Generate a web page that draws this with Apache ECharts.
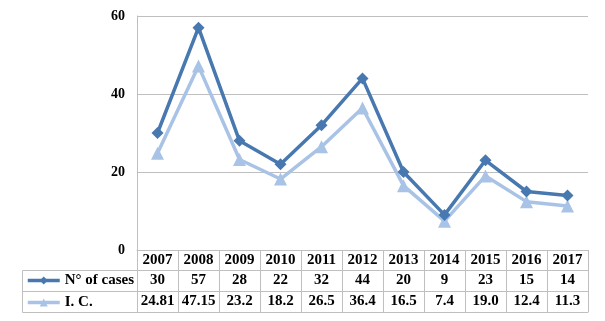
<!DOCTYPE html>
<html>
<head>
<meta charset="utf-8">
<script src="https://cdn.jsdelivr.net/npm/echarts@6/dist/echarts.min.js"></script>
<style>
  html, body { margin: 0; padding: 0; background: #fff; }
  #chart { width: 605px; height: 321px; }
</style>
</head>
<body>
<div id="chart"></div>
<script>
// Chart data
const years = ['2007', '2008', '2009', '2010', '2011', '2012', '2013', '2014', '2015', '2016', '2017'];
const cases = [30, 57, 28, 22, 32, 44, 20, 9, 23, 15, 14];
const incidence = [24.81, 47.15, 23.2, 18.2, 26.5, 36.4, 16.5, 7.4, 19.0, 12.4, 11.3];
const casesLabels = ['30', '57', '28', '22', '32', '44', '20', '9', '23', '15', '14'];
const incidenceLabels = ['24.81', '47.15', '23.2', '18.2', '26.5', '36.4', '16.5', '7.4', '19.0', '12.4', '11.3'];

const FONT = '"Liberation Serif", "Times New Roman", serif';
const BORDER = '#bfbfbf';
const DARK = '#4878b0';
const LIGHT = '#a8c3e6';

const chart = echarts.init(document.getElementById('chart'));

// one category axis per table row, stacked under the plot
const tableAxis = (data, offset, showTicks) => ({
  type: 'category',
  position: 'bottom',
  data: data,
  offset: offset,
  boundaryGap: true,
  axisLine: { show: true, lineStyle: { color: BORDER, width: 1 } },
  axisTick: { show: showTicks, length: offset === 0 ? 20 : 21, lineStyle: { color: BORDER } },
  axisLabel: {
    margin: 3,
    color: '#000',
    fontFamily: FONT,
    fontWeight: 'bold',
    fontSize: 15,
    interval: 0
  }
});

chart.setOption({
  animation: false,
  grid: { left: 137, right: 17, top: 16, bottom: 71 },
  legend: {
    orient: 'vertical',
    left: 26,
    top: 273,
    padding: 0,
    itemWidth: 32,
    itemHeight: 10,
    itemGap: 7,
    lineStyle: { width: 3.5 },
    textStyle: { color: '#000', fontFamily: FONT, fontWeight: 'bold', fontSize: 15, lineHeight: 14 },
    data: ['N° of cases', 'I. C.']
  },
  xAxis: [
    tableAxis(years, 0, true),
    tableAxis(casesLabels, 20, true),
    tableAxis(incidenceLabels, 41, true),
    Object.assign(tableAxis(years, 62, false), { axisLabel: { show: false } })
  ],
  yAxis: {
    type: 'value',
    min: 0,
    max: 60,
    interval: 20,
    axisLine: { show: true, lineStyle: { color: BORDER } },
    axisTick: { show: false },
    splitLine: { lineStyle: { color: BORDER } },
    axisLabel: { color: '#000', fontFamily: FONT, fontWeight: 'bold', fontSize: 14, margin: 12 }
  },
  graphic: [
    // left column of the data table (legend cells)
    { type: 'rect', shape: { x: 22.5, y: 270.5, width: 115, height: 21 }, style: { fill: 'none', stroke: BORDER } },
    { type: 'rect', shape: { x: 22.5, y: 291.5, width: 115, height: 21 }, style: { fill: 'none', stroke: BORDER } }
  ],
  series: [
    {
      name: 'N° of cases',
      type: 'line',
      data: cases,
      symbol: 'diamond',
      symbolSize: 12,
      z: 3,
      lineStyle: { color: DARK, width: 3.5 },
      itemStyle: { color: DARK }
    },
    {
      name: 'I. C.',
      type: 'line',
      data: incidence,
      symbol: 'triangle',
      symbolSize: 13,
      z: 2,
      lineStyle: { color: LIGHT, width: 3.5 },
      itemStyle: { color: LIGHT }
    }
  ]
});
</script>
</body>
</html>
